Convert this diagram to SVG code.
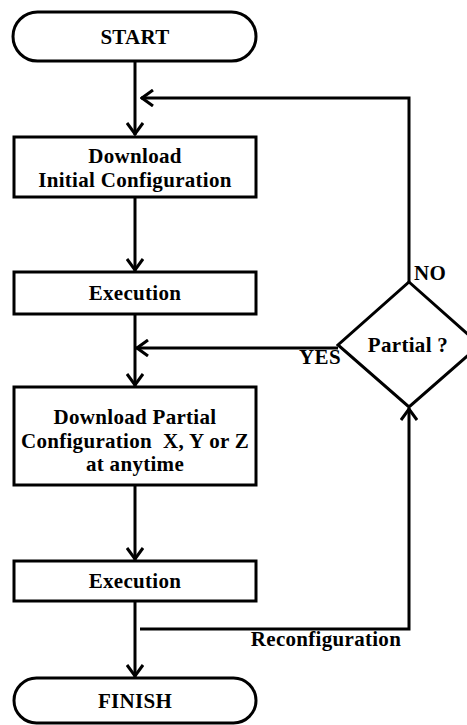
<svg xmlns="http://www.w3.org/2000/svg" width="467" height="725" viewBox="0 0 467 725">
  <style>
    .shape { fill: #fff; stroke: #000; stroke-width: 3; }
    .link { fill: none; stroke: #000; stroke-width: 3; }
    text { font-family: "Liberation Serif", "Times New Roman", serif; font-weight: bold; font-size: 21px; letter-spacing: 0.3px; fill: #000; text-anchor: middle; }
  </style>
  <defs>
    <marker id="chev" viewBox="0 0 14 18" refX="13" refY="9" markerWidth="14" markerHeight="18" markerUnits="userSpaceOnUse" orient="auto">
      <path d="M1,1 L12,9 L1,17" fill="none" stroke="#000" stroke-width="3"/>
    </marker>
  </defs>

  <g id="connectors">
    <line class="link" x1="135" y1="62" x2="135" y2="135" marker-end="url(#chev)"/>
    <polyline class="link" points="409,282 409,98 141,98" marker-end="url(#chev)"/>
    <line class="link" x1="135" y1="197" x2="135" y2="271" marker-end="url(#chev)"/>
    <line class="link" x1="135" y1="314" x2="135" y2="386" marker-end="url(#chev)"/>
    <line class="link" x1="338" y1="348" x2="136" y2="348" marker-end="url(#chev)"/>
    <line class="link" x1="135" y1="486" x2="135" y2="560" marker-end="url(#chev)"/>
    <line class="link" x1="135" y1="601" x2="135" y2="677" marker-end="url(#chev)"/>
    <polyline class="link" points="140,629 409,629 409,408" marker-end="url(#chev)"/>
    <text x="430" y="280">NO</text>
    <text x="320" y="364">YES</text>
    <text x="326" y="646">Reconfiguration</text>
  </g>

  <g id="start">
    <rect class="shape" x="13" y="12" width="243" height="49" rx="24.5"/>
    <text x="135" y="44">START</text>
  </g>

  <g id="download-initial">
    <rect class="shape" x="14" y="137" width="242" height="60"/>
    <text x="135" y="163">Download</text>
    <text x="135" y="187">Initial Configuration</text>
  </g>

  <g id="execution-1">
    <rect class="shape" x="14" y="272" width="242" height="42"/>
    <text x="135" y="300">Execution</text>
  </g>

  <g id="partial">
    <polygon class="shape" points="409,282 480,345 409,407 338,345"/>
    <text x="408" y="352">Partial ?</text>
  </g>

  <g id="download-partial">
    <rect class="shape" x="14" y="387" width="242" height="98"/>
    <text x="135" y="424">Download Partial</text>
    <text x="135" y="448" xml:space="preserve">Configuration  X, Y or Z</text>
    <text x="135" y="471">at anytime</text>
  </g>

  <g id="execution-2">
    <rect class="shape" x="14" y="561" width="242" height="40"/>
    <text x="135" y="588">Execution</text>
  </g>

  <g id="finish">
    <rect class="shape" x="14" y="678" width="242" height="45" rx="22.5"/>
    <text x="135" y="708">FINISH</text>
  </g>
</svg>
